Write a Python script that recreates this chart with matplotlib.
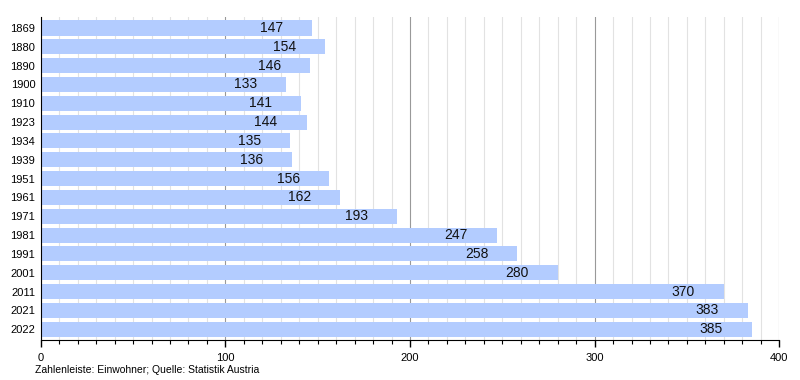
import matplotlib
matplotlib.use("Agg")
import matplotlib.pyplot as plt
from matplotlib.ticker import MultipleLocator

years = ["1869", "1880", "1890", "1900", "1910", "1923", "1934", "1939", "1951",
         "1961", "1971", "1981", "1991", "2001", "2011", "2021", "2022"]
population = [147, 154, 146, 133, 141, 144, 135, 136, 156, 162, 193, 247, 258,
              280, 370, 383, 385]

plt.rcParams['font.family'] = ['Liberation Sans', 'DejaVu Sans']

fig = plt.figure(figsize=(8, 3.8), dpi=100)
ax = fig.add_axes([0.051, 0.105, 0.923, 0.851])

y = list(range(len(years)))
ax.barh(y, population, height=0.8, color="#b3ccff", zorder=2)
for yi, v in zip(y, population):
    ax.text(v - 22, yi, str(v), ha="center", va="center", fontsize=10, color="#111111", zorder=3)

ax.set_xlim(0, 400)
ax.set_ylim(len(years) - 0.42, -0.6)
ax.set_yticks(y)
ax.set_yticklabels(years, fontsize=8)
ax.tick_params(axis="y", length=0, pad=4)

ax.xaxis.set_major_locator(MultipleLocator(100))
ax.xaxis.set_minor_locator(MultipleLocator(10))
ax.tick_params(axis="x", which="major", length=5, width=1, labelsize=8, pad=4)
ax.tick_params(axis="x", which="minor", length=3, width=0.8)
ax.grid(axis="x", which="major", color="#999999", linewidth=0.8, zorder=0)
ax.grid(axis="x", which="minor", color="#e2e2e2", linewidth=0.8, zorder=0)
ax.set_axisbelow(True)

for s in ["top", "right"]:
    ax.spines[s].set_visible(False)
ax.spines["left"].set_color("black")
ax.spines["bottom"].set_color("black")

fig.text(0.044, 0.026, "Zahlenleiste: Einwohner; Quelle: Statistik Austria", fontsize=7.5, ha="left", va="center")

fig.savefig("out.png", dpi=100)
